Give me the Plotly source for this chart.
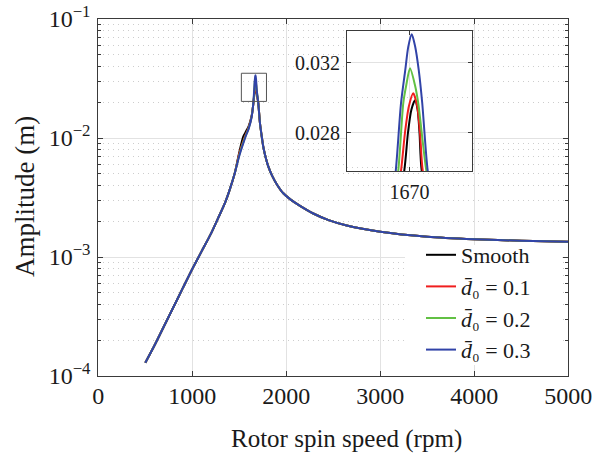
import plotly.graph_objects as go

# ---------------- data ----------------
# common rising branch (all four curves coincide here)
speed_rise = [500, 600, 700, 800, 900, 1000, 1100, 1200, 1277, 1350, 1400, 1450]
amp_rise = [1.29e-4, 1.82e-4, 2.63e-4, 3.80e-4, 5.50e-4, 7.94e-4, 1.12e-3,
            1.58e-3, 2.14e-3, 2.88e-3, 3.72e-3, 5.0e-3]

# resonance region, one set per series
speed_peak_smooth = [1500, 1543, 1575, 1600, 1632, 1650, 1665.8, 1668.8, 1671.5,
                     1674.4, 1676.5, 1678.0, 1679.8, 1690, 1702]
amp_peak_smooth = [7.6e-3, 1.03e-2, 1.15e-2, 1.26e-2, 1.55e-2, 1.96e-2, 0.0258,
                   0.0280, 0.0293, 0.02984, 0.0293, 0.0280, 0.0258, 0.0226, 0.0196]

speed_peak_d01 = [1500, 1550, 1600, 1632, 1650, 1663.2, 1666.4, 1669.5,
                  1673.0, 1676.2, 1678.4, 1680.6, 1690, 1702]
amp_peak_d01 = [7.4e-3, 9.8e-3, 1.23e-2, 1.53e-2, 1.96e-2, 0.0258,
                0.0280, 0.0295, 0.03024, 0.0295, 0.0280, 0.0258, 0.0227, 0.0196]

speed_peak_d02 = [1500, 1550, 1600, 1632, 1650, 1661.0, 1665.0, 1667.4, 1670.4,
                  1674.4, 1677.0, 1683.5, 1692, 1702]
amp_peak_d02 = [7.2e-3, 9.6e-3, 1.21e-2, 1.52e-2, 1.98e-2, 0.0258, 0.02967,
                0.0307, 0.03167, 0.0307, 0.02967, 0.0258, 0.0227, 0.0196]

speed_peak_d03 = [1500, 1550, 1575, 1600, 1632, 1649, 1659.0, 1663.2, 1666.6, 1669.0,
                  1671.8, 1674.6, 1677.4, 1680.2, 1684.6, 1692, 1702]
amp_peak_d03 = [7.1e-3, 9.4e-3, 1.07e-2, 1.20e-2, 1.51e-2, 1.96e-2, 0.0258, 0.02967,
                0.03156, 0.03289, 0.03361, 0.03289, 0.03156, 0.02967, 0.0258,
                0.0228, 0.0196]

# common decaying branch
speed_tail = [1720, 1738, 1755, 1780, 1809, 1850, 1900, 1968, 2050, 2146, 2287,
              2450, 2643, 3000, 3500, 4000, 4500, 5000]
amp_tail = [0.0133, 0.0104, 8.45e-3, 6.9e-3, 5.74e-3, 4.8e-3, 4.07e-3, 3.43e-3,
            3.02e-3, 2.69e-3, 2.32e-3, 2.04e-3, 1.84e-3, 1.63e-3, 1.48e-3,
            1.41e-3, 1.37e-3, 1.34e-3]

series_names = ["Smooth",
                "<i>d\u0304</i>\u2080 = 0.1",
                "<i>d\u0304</i>\u2080 = 0.2",
                "<i>d\u0304</i>\u2080 = 0.3"]
series_colors = ["#000000", "#f01e1e", "#62c044", "#3143a8"]
peak_speeds = [speed_peak_smooth, speed_peak_d01, speed_peak_d02, speed_peak_d03]
peak_amps = [amp_peak_smooth, amp_peak_d01, amp_peak_d02, amp_peak_d03]

x_ticks = [0, 1000, 2000, 3000, 4000, 5000]
y_ticks = [1e-4, 1e-3, 1e-2, 1e-1]
y_ticktext = ["10<sup>\u22124</sup>", "10<sup>\u22123</sup>",
              "10<sup>\u22122</sup>", "10<sup>\u22121</sup>"]
inset_x_ticks = [1670]
inset_y_ticks = [0.028, 0.032]
inset_y_minor = [0.026, 0.030]
zoom_box_x = [1522, 1789]
zoom_box_y = [0.0203, 0.0350]
legend_box_x = [3263, 4933]
legend_box_y = [1.24e-4, 1.26e-3]

# ---------------- figure ----------------
W, H = 597, 453
FONT = "Liberation Serif, Times New Roman, serif"
AXC = "#3a3a3a"
GRID = "#e2e2e2"
MINOR = "#cdcdcd"
DOTS = "1px,4px"

fig = go.Figure()
for axn in ("", "2"):
    for name, col, sp, am in zip(series_names, series_colors, peak_speeds, peak_amps):
        xs = speed_rise + sp + speed_tail
        ys = amp_rise + am + amp_tail
        fig.add_trace(go.Scatter(x=xs, y=ys, mode="lines", name=name,
                                 showlegend=(axn == ""),
                                 line=dict(color=col, width=2, shape="spline", smoothing=0.7),
                                 xaxis="x" + axn, yaxis="y" + axn))

minor_vals = [k * 10.0 ** e for e in (-4, -3, -2) for k in range(2, 10)]

main_dom_x = [98.3 / W, 568.3 / W]
main_dom_y = [1 - 376 / H, 1 - 19 / H]
ins_dom_x = [347 / W, 472 / W]
ins_dom_y = [1 - 171 / H, 1 - 31 / H]

common_ax = dict(showline=True, linecolor=AXC, linewidth=1, mirror="ticks",
                 ticks="inside", tickcolor=AXC, showgrid=True, gridcolor=GRID,
                 gridwidth=1, zeroline=False, automargin=False)

fig.update_layout(
    width=W, height=H,
    margin=dict(l=0, r=0, t=0, b=0, autoexpand=False),
    paper_bgcolor="white", plot_bgcolor="white",
    font=dict(family=FONT, size=24, color="#1a1a1a"),
    showlegend=True,
    legend=dict(x=421 / W, y=1 - 234 / H, xanchor="left", yanchor="top",
                bgcolor="rgba(255,255,255,0)", borderwidth=0,
                font=dict(family=FONT, size=22), tracegroupgap=0),
    xaxis=dict(domain=main_dom_x, range=[0, 5000], tickvals=x_ticks, ticklen=5,
               tickfont=dict(size=24), ticklabelstandoff=-2, anchor="y", **common_ax),
    yaxis=dict(domain=main_dom_y, type="log", range=[-4, -1],
               tickvals=y_ticks, ticktext=y_ticktext, ticklen=5,
               tickfont=dict(size=24), ticklabelstandoff=2,
               minor=dict(tickvals=minor_vals, ticks="inside", ticklen=3, tickcolor=AXC,
                          showgrid=True, gridcolor=MINOR, griddash=DOTS, gridwidth=1),
               anchor="x", **common_ax),
    xaxis2=dict(domain=ins_dom_x, range=[1620, 1720], tickvals=inset_x_ticks, ticklen=4,
                tickfont=dict(size=20), ticklabelstandoff=3, anchor="y2", **common_ax),
    yaxis2=dict(domain=ins_dom_y, range=[0.0258, 0.0338], tickvals=inset_y_ticks,
                tickformat=".3f", ticklen=4,
                tickfont=dict(size=20), ticklabelstandoff=2,
                minor=dict(tickvals=inset_y_minor, ticks="", showgrid=True,
                           gridcolor=MINOR, griddash=DOTS),
                anchor="x2", **common_ax),
    annotations=[
        dict(text="Rotor spin speed (rpm)", xref="paper", yref="paper",
             x=346 / W, y=1 - 439 / H, xanchor="center", yanchor="middle",
             showarrow=False, font=dict(family=FONT, size=25)),
        dict(text="Amplitude (m)", xref="paper", yref="paper", textangle=-90,
             x=25 / W, y=1 - 197 / H, xanchor="center", yanchor="middle",
             showarrow=False, font=dict(family=FONT, size=27)),
    ],
)

# white legend background: hides grid but stays beneath the curves
fig.add_shape(type="rect", xref="x", yref="y", layer="between",
              x0=legend_box_x[0], x1=legend_box_x[1],
              y0=legend_box_y[0], y1=legend_box_y[1],
              line=dict(width=0), fillcolor="white")

fig.add_shape(type="rect", xref="x", yref="y",
              x0=zoom_box_x[0], x1=zoom_box_x[1], y0=zoom_box_y[0], y1=zoom_box_y[1],
              line=dict(color="#555555", width=1), fillcolor="rgba(0,0,0,0)")

fig.write_html("out.html")
